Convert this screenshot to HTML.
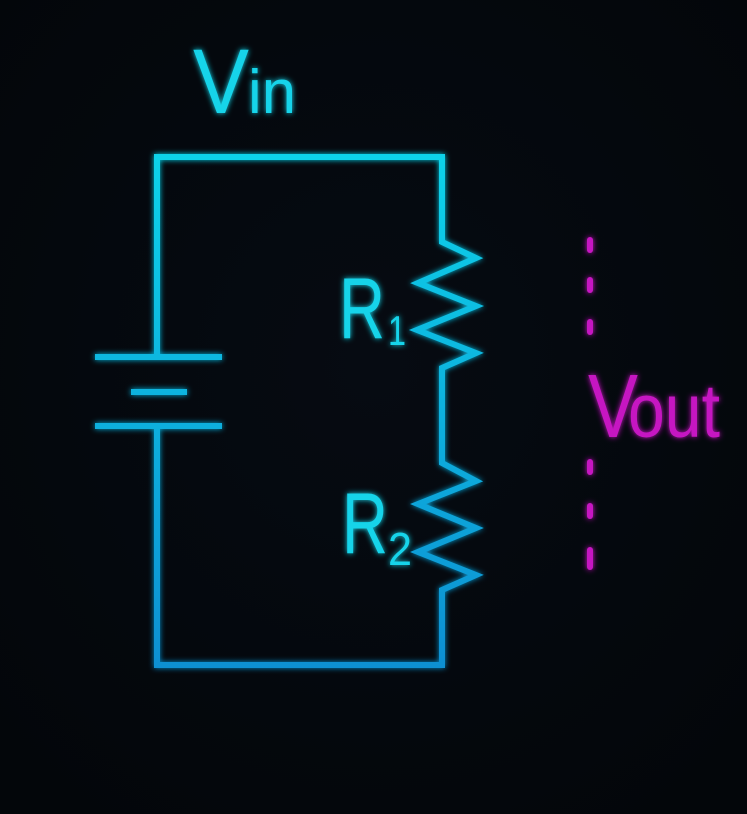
<!DOCTYPE html>
<html><head><style>
html,body{margin:0;padding:0;background:#05080d;}
svg{display:block}
</style></head><body>
<svg width="747" height="814" viewBox="0 0 747 814" xmlns="http://www.w3.org/2000/svg">
<defs>
<radialGradient id="bg" cx="0.5" cy="0.45" r="0.7">
<stop offset="0" stop-color="#060b12"/><stop offset="1" stop-color="#03060a"/>
</radialGradient>
<linearGradient id="wg" x1="0" y1="150" x2="0" y2="670" gradientUnits="userSpaceOnUse">
<stop offset="0" stop-color="#0fd3ea"/><stop offset="1" stop-color="#0a8fd2"/>
</linearGradient>
<filter id="glow" filterUnits="userSpaceOnUse" x="0" y="0" width="747" height="814">
<feGaussianBlur stdDeviation="3" result="b"/>
<feMerge><feMergeNode in="b"/><feMergeNode in="SourceGraphic"/></feMerge>
</filter>
</defs>
<rect width="747" height="814" fill="url(#bg)"/>
<g filter="url(#glow)" fill="none" stroke="url(#wg)" stroke-width="6" stroke-linejoin="miter">
<polyline points="157,357 157,157 442,157 442,242 476,258 418,283 476,306 417,330 476,353 442,368 442,463 476,481 418,504 476,528 418,552 476,575 442,590 442,665 157,665 157,426"/>
<line x1="95" y1="357" x2="222" y2="357"/>
<line x1="131" y1="392" x2="187" y2="392"/>
<line x1="95" y1="426" x2="222" y2="426"/>
</g>
<g filter="url(#glow)" fill="#c615c2">
<rect x="587" y="237" width="6" height="16" rx="3"/>
<rect x="587" y="277" width="6" height="16" rx="3"/>
<rect x="587" y="319" width="6" height="16" rx="3"/>
<rect x="587" y="459" width="6" height="16" rx="3"/>
<rect x="587" y="503" width="6" height="16" rx="3"/>
<rect x="587" y="547" width="6" height="23" rx="3"/>
</g>
<g filter="url(#glow)" font-family="Liberation Sans, sans-serif">
<text x="193" y="113" font-size="92" fill="#13d4ea" textLength="56" lengthAdjust="spacingAndGlyphs">V</text>
<text x="248" y="113" font-size="62" fill="#13d4ea" textLength="48" lengthAdjust="spacingAndGlyphs">in</text>
<text x="339" y="338" font-size="86" fill="#13d4ea" textLength="46" lengthAdjust="spacingAndGlyphs">R</text>
<text x="388" y="345" font-size="42" fill="#13d4ea" textLength="18" lengthAdjust="spacingAndGlyphs">1</text>
<text x="342" y="553" font-size="86" fill="#13d4ea" textLength="46" lengthAdjust="spacingAndGlyphs">R</text>
<text x="388" y="565" font-size="46" fill="#13d4ea" textLength="24" lengthAdjust="spacingAndGlyphs">2</text>
<text x="588" y="437" font-size="90" fill="#c615c2" textLength="50" lengthAdjust="spacingAndGlyphs">V</text>
<text x="628" y="437" font-size="76" fill="#c615c2" textLength="92" lengthAdjust="spacingAndGlyphs">out</text>
</g>
</svg>
</body></html>
